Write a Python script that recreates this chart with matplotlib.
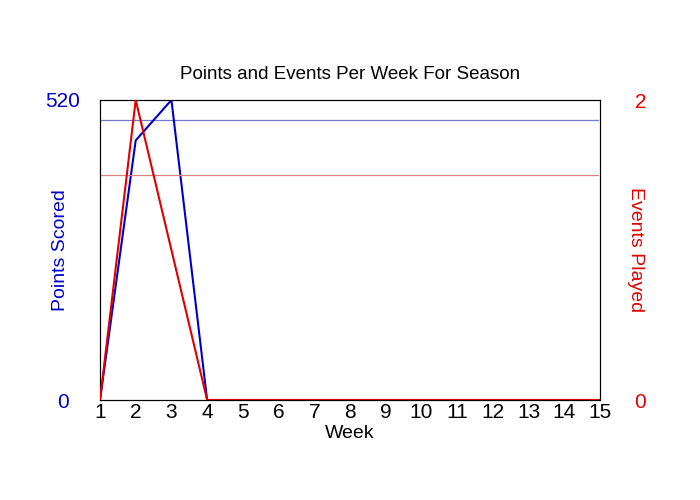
import matplotlib
matplotlib.use("Agg")
import matplotlib.pyplot as plt

plt.rcParams["font.family"] = ["Liberation Sans", "DejaVu Sans"]

weeks = list(range(1, 16))
points = [0, 450, 520, 0, 0, 0, 0, 0, 0, 0, 0, 0, 0, 0, 0]
events = [0, 2, 1, 0, 0, 0, 0, 0, 0, 0, 0, 0, 0, 0, 0]
points_avg = 485
events_avg = 1.5
points_max = 520
events_max = 2

blue = "#0000cc"
red = "#e00000"

fig = plt.figure(figsize=(7, 5), dpi=100)
ax = fig.add_axes([100 / 700, 0.2, 500 / 700, 0.6])
ax2 = ax.twinx()

ax.plot(weeks, points, color=blue, linewidth=1.5, zorder=3)
ax.axhline(points_avg, xmax=0.996, color="#7777cc", linewidth=0.9)
ax2.plot(weeks, events, color=red, linewidth=1.5, zorder=3)
ax2.axhline(events_avg, xmax=0.996, color="#dd8080", linewidth=0.9)

ax.set_xlim(1, 15)
ax.set_ylim(0, points_max)
ax2.set_ylim(0, events_max)

ax.set_xticks(weeks)
ax.set_yticks([0, points_max])
ax2.set_yticks([0, events_max])

ax.tick_params(axis="x", length=0, labelsize=15, pad=2)
ax.tick_params(axis="y", length=0, labelsize=15, pad=27, labelcolor=blue)
ax2.tick_params(axis="y", length=0, labelsize=15, pad=29, labelcolor=red)
for lab in ax.get_yticklabels() + ax2.get_yticklabels():
    lab.set_horizontalalignment("center")

ax.set_xlabel("Week", fontsize=14, labelpad=2)
ax.set_ylabel("Points Scored", fontsize=14, color=blue, labelpad=-17)
ax2.set_ylabel("Events Played", fontsize=14, color=red, rotation=270, labelpad=-1.5)
ax.set_title("Points and Events Per Week For Season", fontsize=13.5, pad=15)

fig.savefig("out.png", dpi=100)
